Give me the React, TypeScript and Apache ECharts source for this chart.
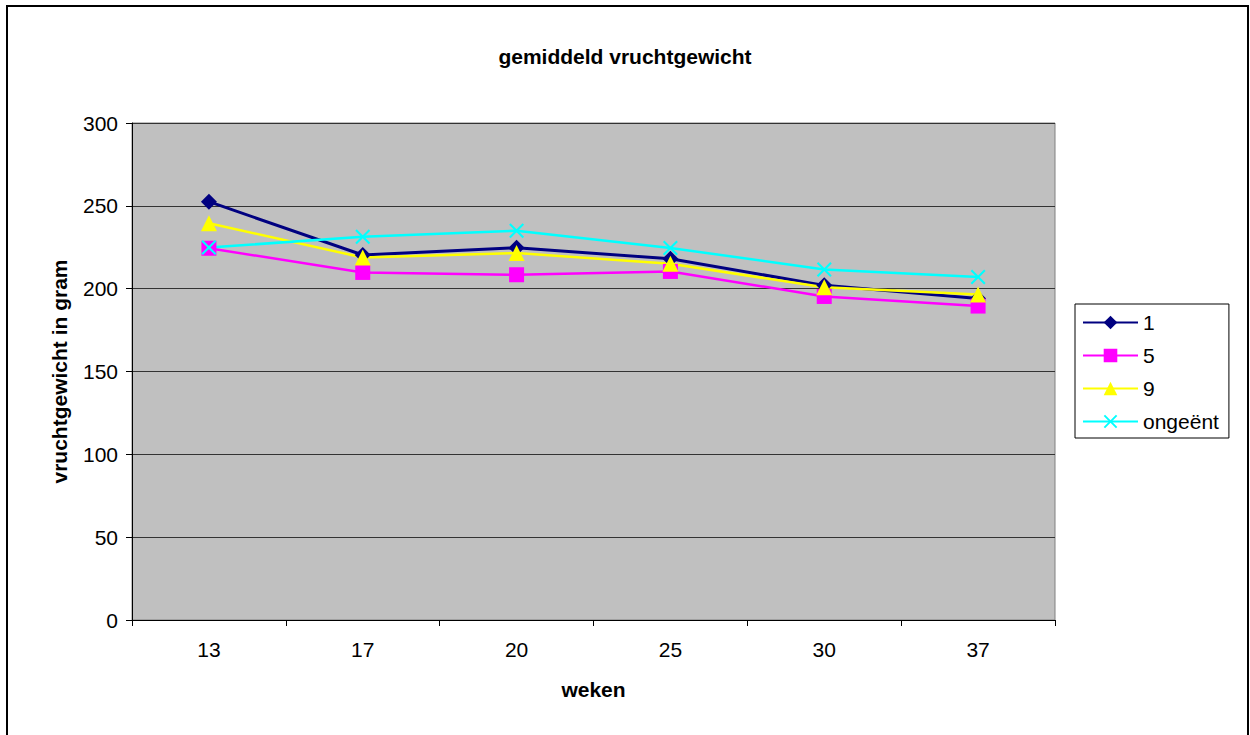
import React, { useEffect, useRef } from "react";
import * as echarts from "echarts";

const weeks = ["13", "17", "20", "25", "30", "37"];
const series1 = [252.5, 220.3, 224.7, 218.0, 202.0, 194.0];
const series5 = [224.4, 209.8, 208.4, 210.4, 195.3, 189.5];
const series9 = [239.5, 218.8, 221.5, 215.0, 200.8, 196.5];
const seriesOngeent = [224.8, 231.4, 235.0, 224.6, 211.6, 207.0];
const yTicks = { min: 0, max: 300, interval: 50 };

const crossPath =
  "path://M0,1 L1,0 L5,4 L9,0 L10,1 L6,5 L10,9 L9,10 L5,6 L1,10 L0,9 L4,5 Z";

export default function App() {
  const ref = useRef<HTMLDivElement>(null);
  useEffect(() => {
    if (!ref.current) return;
    const chart = echarts.init(ref.current, undefined, { renderer: "svg" });
    const font = "'Liberation Sans', Arial, sans-serif";
    const fs = 21;
    const mk = (name: string, data: number[], color: string, symbol: string, size: number, width: number) => ({
      name,
      type: "line",
      data,
      symbol,
      symbolSize: size,
      showSymbol: true,
      itemStyle: { color },
      lineStyle: { color, width },
      emphasis: { disabled: true },
    });
    chart.setOption({
      animation: false,
      textStyle: { fontFamily: font },
      title: {
        text: "gemiddeld vruchtgewicht",
        left: "center",
        top: 41,
        textStyle: { fontSize: fs, fontWeight: "bold", color: "#000", fontFamily: font },
      },
      graphic: [
        {
          type: "rect",
          shape: { x: 7, y: 6, width: 1241, height: 800 },
          style: { fill: "none", stroke: "#000", lineWidth: 2 },
          silent: true,
        },
      ],
      legend: {
        orient: "vertical",
        left: 1075,
        top: 304,
        padding: [8, 10, 6, 7],
        borderColor: "#000",
        borderWidth: 1,
        itemWidth: 55,
        itemHeight: 17,
        itemGap: 12,
        textStyle: { fontSize: fs, color: "#000", fontFamily: font },
        data: ["1", "5", "9", "ongeënt"],
      },
      grid: {
        left: 132,
        right: 195,
        top: 123,
        bottom: 115,
        show: true,
        backgroundColor: "#C0C0C0",
        borderColor: "#808080",
        borderWidth: 1,
      },
      xAxis: {
        type: "category",
        data: weeks,
        boundaryGap: true,
        name: "weken",
        nameLocation: "middle",
        nameGap: 59,
        nameTextStyle: { fontSize: fs, fontWeight: "bold", color: "#000", fontFamily: font },
        axisLine: { lineStyle: { color: "#000", width: 1 } },
        axisTick: { show: true, inside: false, length: 6, alignWithLabel: false, lineStyle: { color: "#000" } },
        axisLabel: { fontSize: fs, color: "#000", margin: 19, fontFamily: font },
        splitLine: { show: false },
      },
      yAxis: {
        type: "value",
        min: yTicks.min,
        max: yTicks.max,
        interval: yTicks.interval,
        name: "vruchtgewicht in gram",
        nameLocation: "middle",
        nameGap: 62,
        nameRotate: 90,
        nameTextStyle: { fontSize: fs, fontWeight: "bold", color: "#000", fontFamily: font },
        axisLine: { show: true, lineStyle: { color: "#000", width: 1 } },
        axisTick: { show: true, inside: false, length: 6, lineStyle: { color: "#000" } },
        axisLabel: { fontSize: fs, color: "#000", margin: 14, fontFamily: font },
        splitLine: { show: true, lineStyle: { color: "#333", width: 1 } },
      },
      series: [
        mk("1", series1, "#000080", "diamond", 16, 3),
        mk("5", series5, "#FF00FF", "rect", 15, 2.5),
        mk("9", series9, "#FFFF00", "triangle", 16, 2.5),
        mk("ongeënt", seriesOngeent, "#00FFFF", crossPath, 15, 2.5),
      ],
    });
    return () => chart.dispose();
  }, []);
  return (
    <div
      ref={ref}
      style={{ position: "absolute", left: 0, top: 0, width: 1250, height: 735, background: "#fff" }}
    />
  );
}
